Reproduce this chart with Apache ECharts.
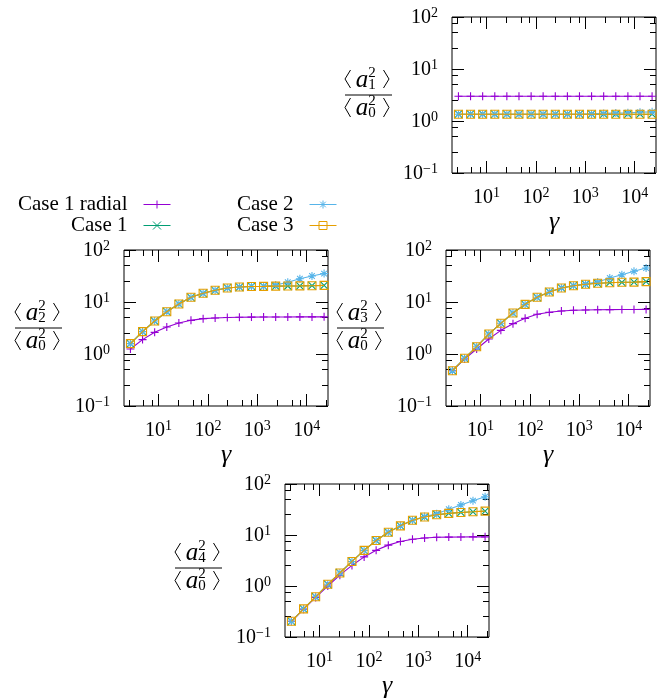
<!DOCTYPE html>
<html>
<head>
<meta charset="utf-8">
<script src="https://cdn.jsdelivr.net/npm/echarts@6/dist/echarts.min.js"></script>
<style>
  html, body { margin: 0; padding: 0; background: #fff; }
  #chart { width: 657px; height: 700px; }
</style>
</head>
<body>
<div id="chart"></div>
<script>
// gamma values (same for every panel)
const gammaValues = [2.7, 4.75, 8.35, 14.7, 25.8, 45.4, 80, 140, 247, 434, 762, 1340, 2355, 4140, 7280, 12800, 22500];

// <a1^2>/<a0^2>
const a1Radial = [2.99, 2.99, 2.99, 2.99, 2.99, 2.99, 2.99, 2.99, 2.99, 2.99, 2.99, 2.99, 2.99, 2.99, 2.99, 2.99, 2.99];
const a1Case1 = [1.35, 1.35, 1.35, 1.35, 1.35, 1.35, 1.35, 1.35, 1.35, 1.35, 1.35, 1.35, 1.35, 1.35, 1.35, 1.35, 1.35];
const a1Case2 = [1.35, 1.35, 1.35, 1.35, 1.35, 1.35, 1.35, 1.35, 1.35, 1.35, 1.35, 1.37, 1.40, 1.42, 1.44, 1.47, 1.50];
const a1Case3 = [1.35, 1.35, 1.35, 1.35, 1.35, 1.35, 1.35, 1.35, 1.35, 1.35, 1.35, 1.35, 1.35, 1.35, 1.35, 1.35, 1.35];

// <a2^2>/<a0^2>
const a2Radial = [1.25, 1.89, 2.61, 3.3, 3.94, 4.44, 4.78, 4.92, 5.02, 5.08, 5.12, 5.14, 5.15, 5.16, 5.17, 5.17, 5.18];
const a2Case1 = [1.58, 2.69, 4.31, 6.51, 9.16, 12.3, 14.7, 16.8, 18.6, 19.4, 19.9, 20.0, 20.2, 20.3, 20.4, 20.6, 20.9];
const a2Case2 = [1.58, 2.69, 4.31, 6.51, 9.16, 12.3, 14.7, 16.8, 18.6, 19.4, 19.9, 20.1, 21.2, 24.0, 28.0, 31.6, 35.2];
const a2Case3 = [1.58, 2.69, 4.31, 6.51, 9.16, 12.3, 14.7, 16.8, 18.6, 19.4, 19.9, 20.0, 20.2, 20.3, 20.4, 20.6, 20.9];

// <a3^2>/<a0^2>
const a3Radial = [0.477, 0.80, 1.25, 1.94, 2.85, 3.83, 4.85, 5.8, 6.33, 6.71, 6.92, 7.02, 7.1, 7.14, 7.16, 7.18, 7.2];
const a3Case1 = [0.477, 0.826, 1.38, 2.42, 3.89, 6.14, 9.02, 12.3, 15.6, 18.6, 20.6, 21.9, 22.9, 23.5, 23.9, 24.1, 24.6];
const a3Case2 = [0.477, 0.826, 1.38, 2.42, 3.89, 6.14, 9.02, 12.3, 15.6, 18.6, 20.6, 22.3, 24.2, 28.9, 33.5, 38.9, 45.0];
const a3Case3 = [0.477, 0.826, 1.38, 2.42, 3.89, 6.14, 9.02, 12.3, 15.6, 18.6, 20.6, 21.9, 22.9, 23.5, 23.9, 24.1, 24.6];

// <a4^2>/<a0^2>
const a4Radial = [0.203, 0.35, 0.597, 1.0, 1.63, 2.53, 3.72, 5.0, 6.33, 7.44, 8.26, 8.76, 9.02, 9.1, 9.15, 9.2, 9.2];
const a4Case1 = [0.203, 0.356, 0.614, 1.08, 1.8, 3.03, 5.0, 7.8, 11.3, 15.1, 19.4, 22.5, 25.0, 26.5, 27.7, 28.5, 29.4];
const a4Case2 = [0.203, 0.356, 0.614, 1.08, 1.8, 3.03, 5.0, 7.8, 11.3, 15.1, 19.4, 23.0, 26.1, 32.0, 38.9, 47.1, 56.2];
const a4Case3 = [0.203, 0.356, 0.614, 1.08, 1.8, 3.03, 5.0, 7.8, 11.3, 15.1, 19.4, 22.5, 25.0, 26.5, 27.7, 28.5, 29.4];

// axes
const X_MIN = 2, X_MAX = 27000;
const Y_MIN = 0.1, Y_MAX = 100;
const xMajor = [10, 100, 1000, 10000];
const xMinor = [2.5, 5, 7.5, 25, 50, 75, 250, 500, 750, 2500, 5000, 7500, 25000];
const yMajor = [0.1, 1, 10, 100];
const yMinor = [0.25, 0.5, 0.75, 2.5, 5, 7.5, 25, 50, 75];

const FONT = "'Liberation Serif', 'DejaVu Serif', serif";
const seriesNames = ['Case 1 radial', 'Case 1', 'Case 2', 'Case 3'];
const colors = ['#9400d3', '#009e73', '#56b4e9', '#e69f00'];
const symbols = [
  'path://M0,5L10,5M5,0L5,10',
  'path://M0,0L10,10M0,10L10,0',
  'path://M0,5L10,5M5,0L5,10M1.5,1.5L8.5,8.5M1.5,8.5L8.5,1.5',
  'path://M0,0L10,0L10,10L0,10Z'
];

const panels = [
  { k: 1, data: [a1Radial, a1Case1, a1Case2, a1Case3], box: { left: 452, top: 17, width: 204, height: 156 }, frac: [345, 95] },
  { k: 2, data: [a2Radial, a2Case1, a2Case2, a2Case3], box: { left: 124, top: 250, width: 204, height: 156 }, frac: [15, 328] },
  { k: 3, data: [a3Radial, a3Case1, a3Case2, a3Case3], box: { left: 446, top: 250, width: 204, height: 156 }, frac: [337, 328] },
  { k: 4, data: [a4Radial, a4Case1, a4Case2, a4Case3], box: { left: 285, top: 484, width: 204, height: 156 }, frac: [175, 568] }
];

const rich = {
  b: { fontFamily: FONT, fontSize: 20, color: '#000', verticalAlign: 'bottom' },
  e: { fontFamily: FONT, fontSize: 14, color: '#000', verticalAlign: 'bottom', padding: [0, 0, 8, 0] }
};
function expLabel(v) {
  const e = Math.round(Math.log10(v));
  return '{b|10}{e|' + (e < 0 ? '\u2212' + (-e) : e) + '}';
}

function tickAxis(gridIndex, position, lo, hi, values, len) {
  return {
    type: 'value', gridIndex: gridIndex, position: position,
    min: Math.log10(lo), max: Math.log10(hi),
    axisLine: { show: false, onZero: false },
    axisLabel: { show: false },
    splitLine: { show: false },
    axisTick: { show: true, inside: true, length: len, customValues: values.map(v => Math.log10(v)),
      lineStyle: { color: '#000', width: 1 } }
  };
}

const grids = [], xAxes = [], yAxes = [], series = [];
panels.forEach((p, i) => {
  grids.push(Object.assign({ show: true, borderColor: '#000', borderWidth: 1, backgroundColor: 'transparent' }, p.box));
  xAxes.push({
    type: 'log', gridIndex: i, position: 'bottom', min: X_MIN, max: X_MAX,
    axisLine: { show: false, onZero: false },
    axisTick: { inside: true, length: 12, lineStyle: { color: '#000', width: 1 } },
    axisLabel: { formatter: expLabel, rich: rich, margin: 13, showMinLabel: false, showMaxLabel: false },
    splitLine: { show: false },
    name: '\u03b3', nameLocation: 'middle', nameGap: 36, nameMoveOverlap: false,
    nameTextStyle: { fontFamily: FONT, fontStyle: 'italic', fontSize: 26, color: '#000' }
  });
  xAxes.push(tickAxis(i, 'bottom', X_MIN, X_MAX, xMinor, 6));
  xAxes.push(tickAxis(i, 'top', X_MIN, X_MAX, xMajor, 12));
  xAxes.push(tickAxis(i, 'top', X_MIN, X_MAX, xMinor, 6));

  yAxes.push({
    type: 'log', gridIndex: i, position: 'left', min: Y_MIN, max: Y_MAX,
    axisLine: { show: false, onZero: false },
    axisTick: { inside: true, length: 12, lineStyle: { color: '#000', width: 1 } },
    axisLabel: { formatter: expLabel, rich: rich, margin: 14 },
    splitLine: { show: false }
  });
  yAxes.push(tickAxis(i, 'left', Y_MIN, Y_MAX, yMinor, 6));
  yAxes.push(tickAxis(i, 'right', Y_MIN, Y_MAX, yMajor, 12));
  yAxes.push(tickAxis(i, 'right', Y_MIN, Y_MAX, yMinor, 6));

  p.data.forEach((vals, s) => {
    series.push({
      type: 'line', name: seriesNames[s],
      xAxisIndex: i * 4, yAxisIndex: i * 4,
      data: gammaValues.map((g, j) => [g, vals[j]]),
      symbol: symbols[s], symbolSize: 8,
      itemStyle: { color: s === 3 ? 'transparent' : colors[s], borderColor: colors[s], borderWidth: 1.1 },
      lineStyle: { color: colors[s], width: 1.1 },
      z: 2 + s
    });
  });
});

// y axis titles: <a_k^2> / <a_0^2>
function txt(x, y, s, size, italic) {
  return { type: 'text', x: x, y: y, silent: true,
    style: { text: s, font: (italic ? 'italic ' : '') + size + 'px ' + FONT, align: 'center', verticalAlign: 'middle', fill: '#000' } };
}
function bracket(x, y0, y1, left) {
  const m = (y0 + y1) / 2;
  const pts = left ? [[x + 5.5, y0], [x, m], [x + 5.5, y1]] : [[x, y0], [x + 5.5, m], [x, y1]];
  return { type: 'polyline', silent: true, shape: { points: pts }, style: { stroke: '#000', lineWidth: 1, fill: null } };
}
function fraction(bx, by, k) {
  return [
    bracket(bx, by - 25, by - 7, true),
    txt(bx + 17, by - 14.5, 'a', 25, true),
    txt(bx + 27, by - 22, '2', 15, false),
    txt(bx + 27, by - 10, String(k), 15, false),
    bracket(bx + 38.5, by - 25, by - 7, false),
    { type: 'line', silent: true, shape: { x1: bx, y1: by, x2: bx + 47, y2: by }, style: { stroke: '#000', lineWidth: 1 } },
    bracket(bx, by + 3, by + 22, true),
    txt(bx + 17, by + 13, 'a', 25, true),
    txt(bx + 27, by + 6, '2', 15, false),
    txt(bx + 27, by + 18.5, '0', 15, false),
    bracket(bx + 38.5, by + 3, by + 22, false)
  ];
}
let graphics = [];
panels.forEach(p => { graphics = graphics.concat(fraction(p.frac[0], p.frac[1], p.k)); });

const legendBase = {
  orient: 'vertical', align: 'right', itemWidth: 27, itemHeight: 10, itemGap: 0, padding: 0, top: 194,
  itemStyle: { borderWidth: 1 },
  lineStyle: { width: 1 },
  textStyle: { fontFamily: FONT, fontSize: 21, color: '#000', padding: [0, 11, 0, 0] }
};

const chart = echarts.init(document.getElementById('chart'));
chart.setOption({
  animation: false,
  backgroundColor: '#fff',
  legend: [
    Object.assign({ data: ['Case 1 radial', 'Case 1'], right: 486 }, legendBase),
    Object.assign({ data: ['Case 2', 'Case 3'], right: 320 }, legendBase)
  ],
  grid: grids,
  xAxis: xAxes,
  yAxis: yAxes,
  series: series,
  graphic: graphics
});
</script>
</body>
</html>
